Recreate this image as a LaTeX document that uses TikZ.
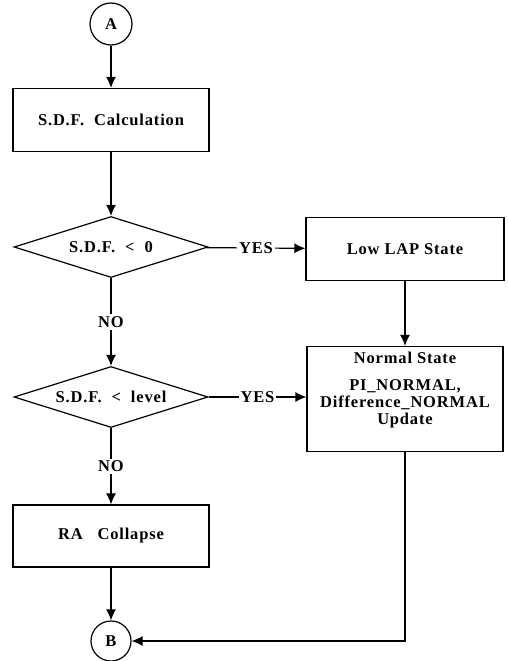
\documentclass[tikz,border=0pt]{standalone}
\usepackage{fontspec}
\setmainfont{Liberation Serif}[LetterSpace=5]
\usetikzlibrary{shapes.geometric,arrows.meta}

\tikzset{
	box/.style={draw, line width=1.2pt, minimum width=196pt, minimum height=63pt, inner sep=0pt},
	decision/.style={draw, diamond, line width=1.2pt, aspect=3.2, minimum width=194pt, minimum height=61pt, inner sep=0pt},
	connector/.style={draw, circle, line width=1.2pt, minimum size=42pt, inner sep=0pt},
	arrow/.style={-{Latex[length=11pt,width=10pt]}, line width=1.2pt},
	answer/.style={fill=white, inner sep=2pt}
}

\begin{document}
\begin{tikzpicture}[x=1pt, y=-1pt, font=\fontsize{16.5}{17}\selectfont\bfseries]
\useasboundingbox (0,0) rectangle (507,661);

\node (A) at (111,24) [connector] {A};
\node (calc) at (111,120) [box] {S.D.F.\ \ Calculation};
\node (dec1) at (111,247) [decision] {S.D.F.\ \ <\ \ 0};
\node (low) at (405,249) [box, minimum width=198pt] {Low LAP State};
\node (dec2) at (111,397) [decision] {S.D.F.\ \ <\ \ level};
\node (normal) at (405,399) [box, minimum height=105pt] {};
\node (normaltext) at (405,390) [align=center] {Normal State\\[10pt] PI\_NORMAL,\\ Difference\_NORMAL\\ Update};
\node (collapse) at (111,536) [box, minimum height=62pt] {RA\ \ \ Collapse};
\node (B) at (111,641) [connector, minimum size=40pt] {B};

\draw [arrow] (A) -- (calc);
\draw [arrow] (calc) -- (dec1);
\draw [arrow] (dec1) -- node[answer] {YES} (low);
\draw [arrow] (dec1) -- node[answer] {NO} (dec2);
\draw [arrow] (low) -- (normal);
\draw [arrow] (dec2) -- node[answer] {YES} (normal.west |- dec2);
\draw [arrow] (dec2) -- node[answer] {NO} (collapse);
\draw [arrow] (collapse) -- (B);
\draw [arrow] (normal.south) |- (B);

\end{tikzpicture}
\end{document}
